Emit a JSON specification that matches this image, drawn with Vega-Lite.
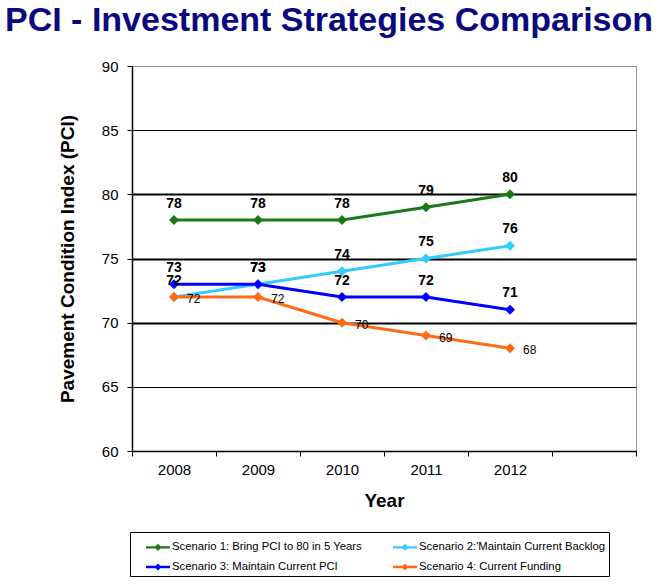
{
  "$schema": "https://vega.github.io/schema/vega-lite/v6.json",
  "autosize": {"type": "none"},
  "padding": {"left": 132, "top": 66, "right": 22, "bottom": 135},
  "width": 504,
  "height": 385,
  "background": "white",
  "title": {
    "text": "PCI - Investment Strategies Comparison",
    "font": "Liberation Sans",
    "fontSize": 34,
    "fontWeight": "bold",
    "color": "#0a0a80",
    "anchor": "start",
    "frame": "group",
    "dx": -127,
    "offset": 21
  },
  "config": {
    "view": {"stroke": "#999999", "strokeWidth": 1},
    "font": "Liberation Sans",
    "axis": {"labelColor": "black", "titleColor": "black", "domainColor": "black", "tickColor": "black", "labelFont": "Liberation Sans", "titleFont": "Liberation Sans"}
  },
  "data": {
    "values": [
      {"year": "2008", "scenario": "Scenario 1: Bring PCI to 80 in 5 Years", "pci": 78},
      {"year": "2009", "scenario": "Scenario 1: Bring PCI to 80 in 5 Years", "pci": 78},
      {"year": "2010", "scenario": "Scenario 1: Bring PCI to 80 in 5 Years", "pci": 78},
      {"year": "2011", "scenario": "Scenario 1: Bring PCI to 80 in 5 Years", "pci": 79},
      {"year": "2012", "scenario": "Scenario 1: Bring PCI to 80 in 5 Years", "pci": 80},
      {"year": "2008", "scenario": "Scenario 2:'Maintain Current Backlog", "pci": 72},
      {"year": "2009", "scenario": "Scenario 2:'Maintain Current Backlog", "pci": 73},
      {"year": "2010", "scenario": "Scenario 2:'Maintain Current Backlog", "pci": 74},
      {"year": "2011", "scenario": "Scenario 2:'Maintain Current Backlog", "pci": 75},
      {"year": "2012", "scenario": "Scenario 2:'Maintain Current Backlog", "pci": 76},
      {"year": "2008", "scenario": "Scenario 3: Maintain Current PCI", "pci": 73},
      {"year": "2009", "scenario": "Scenario 3: Maintain Current PCI", "pci": 73},
      {"year": "2010", "scenario": "Scenario 3: Maintain Current PCI", "pci": 72},
      {"year": "2011", "scenario": "Scenario 3: Maintain Current PCI", "pci": 72},
      {"year": "2012", "scenario": "Scenario 3: Maintain Current PCI", "pci": 71},
      {"year": "2008", "scenario": "Scenario 4: Current Funding", "pci": 72},
      {"year": "2009", "scenario": "Scenario 4: Current Funding", "pci": 72},
      {"year": "2010", "scenario": "Scenario 4: Current Funding", "pci": 70},
      {"year": "2011", "scenario": "Scenario 4: Current Funding", "pci": 69},
      {"year": "2012", "scenario": "Scenario 4: Current Funding", "pci": 68}
    ]
  },
  "encoding": {
    "x": {
      "field": "year",
      "type": "nominal",
      "bandPosition": 0.5,
      "scale": {"type": "band", "domain": ["2008", "2009", "2010", "2011", "2012", " "], "paddingInner": 0, "paddingOuter": 0},
      "axis": {
        "title": "Year",
        "titleFontSize": 19,
        "titleFontWeight": "bold",
        "titlePadding": 14,
        "labelAngle": 0,
        "labelFontSize": 15,
        "labelPadding": 6,
        "tickBand": "extent",
        "tickSize": 5,
        "domainWidth": 1.5,
        "grid": false
      }
    },
    "y": {
      "field": "pci",
      "type": "quantitative",
      "scale": {"domain": [60, 90], "nice": false, "zero": false},
      "axis": {
        "title": "Pavement Condition Index (PCI)",
        "titleFontSize": 19,
        "titleFontWeight": "bold",
        "titlePadding": 24,
        "values": [60, 65, 70, 75, 80, 85, 90],
        "labelFontSize": 15,
        "labelPadding": 9,
        "tickSize": 5,
        "domainWidth": 1.5,
        "grid": true,
        "gridColor": {"condition": {"test": "datum.value == 90", "value": "#999999"}, "value": "black"},
        "gridWidth": {"condition": {"test": "datum.value == 70 || datum.value == 75 || datum.value == 80", "value": 2}, "value": 1},
        "gridOpacity": 1
      }
    },
    "color": {
      "field": "scenario",
      "type": "nominal",
      "scale": {
        "domain": ["Scenario 1: Bring PCI to 80 in 5 Years", "Scenario 2:'Maintain Current Backlog", "Scenario 3: Maintain Current PCI", "Scenario 4: Current Funding"],
        "range": ["#1a7a1a", "#33ccff", "#0000ff", "#ff6a14"]
      },
      "legend": {
        "title": null,
        "orient": "none",
        "direction": "horizontal",
        "legendX": -2,
        "legendY": 466,
        "columns": 2,
        "columnPadding": 18,
        "rowPadding": 2,
        "padding": 3,
        "strokeColor": "black",
        "fillColor": "white",
        "labelFont": "Liberation Sans",
        "labelFontSize": 11.3,
        "labelColor": "black",
        "symbolOffset": 13,
        "labelOffset": 2,
        "labelExpr": "(indexof(datum.label, 'Scenario 2') == 0 || indexof(datum.label, 'Scenario 4') == 0) ? datum.label + '   ' : datum.label",
        "symbolType": "M-1,-0.1H1V0.1H-1Z M-0.3,0L0,-0.3L0.3,0L0,0.3Z",
        "symbolSize": 576,
        "symbolStrokeWidth": 0,
        "symbolOpacity": 1,
        "labelLimit": 300
      }
    }
  },
  "layer": [
    {"mark": {"type": "line", "strokeWidth": 3}},
    {"mark": {"type": "point", "shape": "diamond", "filled": true, "size": 100, "opacity": 1}},
    {
      "transform": [{"filter": "datum.scenario != 'Scenario 4: Current Funding'"}],
      "mark": {"type": "text", "fontWeight": "bold", "fontSize": 14, "font": "Liberation Sans", "baseline": "alphabetic", "dy": -12.5, "color": "black"},
      "encoding": {"text": {"field": "pci", "type": "quantitative"}, "color": {"value": "black"}}
    },
    {
      "transform": [{"filter": "datum.scenario == 'Scenario 4: Current Funding'"}],
      "mark": {"type": "text", "fontSize": 12, "font": "Liberation Sans", "align": "left", "baseline": "middle", "dx": 13, "dy": 2, "color": "black"},
      "encoding": {"text": {"field": "pci", "type": "quantitative"}, "color": {"value": "black"}}
    }
  ]
}
